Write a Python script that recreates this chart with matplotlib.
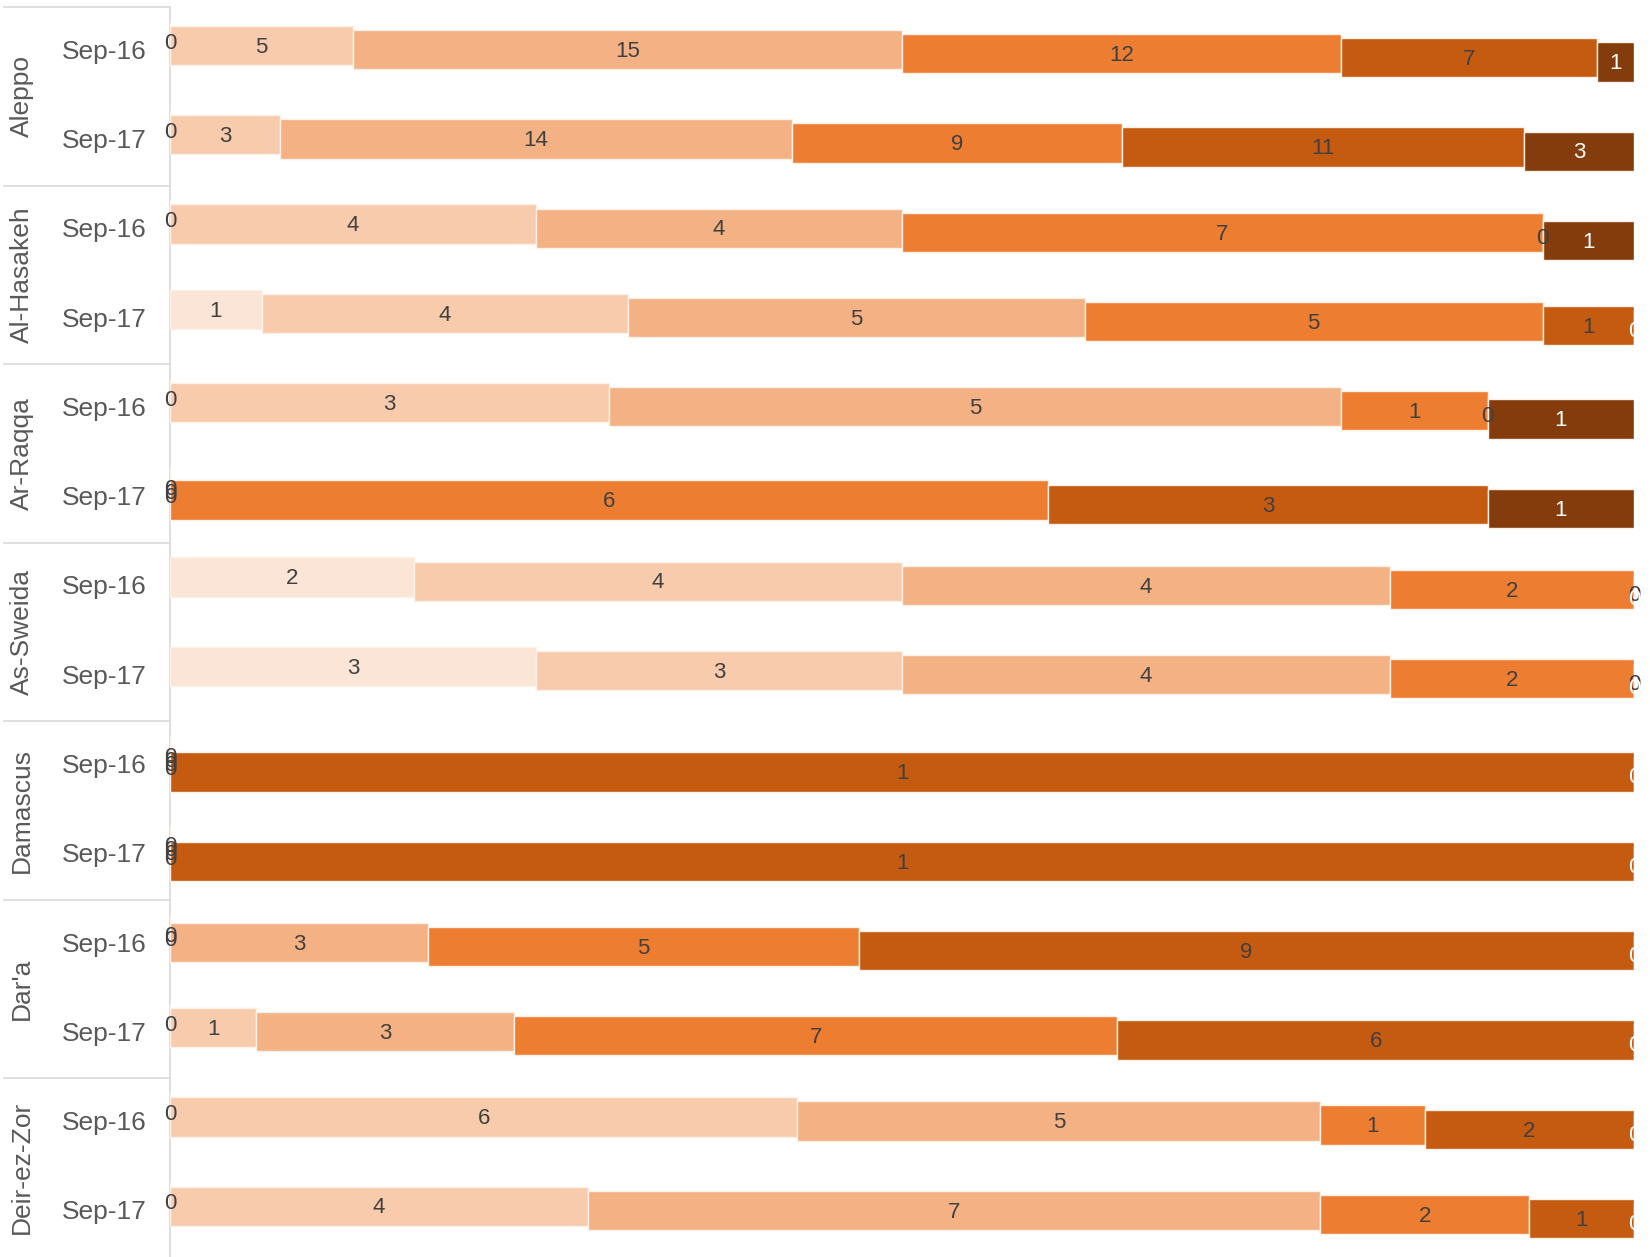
import matplotlib.pyplot as plt
from matplotlib.patches import Rectangle
import numpy as np

plt.rcParams["font.family"] = ["Liberation Sans", "DejaVu Sans"]

# governorates and survey rounds
gobernaciones = ["Aleppo", "Al-Hasakeh", "Ar-Raqqa", "As-Sweida", "Damascus", "Dar'a", "Deir-ez-Zor"]
periodos = ["Sep-16", "Sep-17"]

# counts per category (lightest -> darkest), one row per governorate/round
cat1 = [0, 0, 0, 1, 0, 0, 2, 3, 0, 0, 0, 0, 0, 0]
cat2 = [5, 3, 4, 4, 3, 0, 4, 3, 0, 0, 0, 1, 6, 4]
cat3 = [15, 14, 4, 5, 5, 0, 4, 4, 0, 0, 3, 3, 5, 7]
cat4 = [12, 9, 7, 5, 1, 6, 2, 2, 0, 0, 5, 7, 1, 2]
cat5 = [7, 11, 0, 1, 0, 3, 0, 0, 1, 1, 9, 6, 2, 1]
cat6 = [1, 3, 1, 0, 1, 1, 0, 0, 0, 0, 0, 0, 0, 0]

colores = ["#fbe5d6", "#f8cbad", "#f4b183", "#ed7d31", "#c55a11", "#843c0c"]
color_texto = ["#404040", "#404040", "#404040", "#404040", "#404040", "white"]

datos = np.array([cat1, cat2, cat3, cat4, cat5, cat6], dtype=float)
totales = datos.sum(axis=0)
prop = datos / totales

n_filas = datos.shape[1]
filas = np.arange(n_filas)

fig = plt.figure(figsize=(16.5, 12.57), dpi=100)
ax = fig.add_axes([170 / 1650, 0.0, 1464 / 1650, 1 - 7 / 1257])

# labels may spill left of the bars but get cut at the right edge
clip = Rectangle((-0.1, 0), 1.1, 1, transform=ax.transAxes)

desfase = 0.046
alto = 0.44
izq = np.zeros(n_filas)
for k in range(6):
    y = filas + (k - 2.5) * desfase
    ax.barh(y, prop[k], left=izq, height=alto, color=colores[k],
            edgecolor="#fdf0e6", linewidth=1)
    for i in range(n_filas):
        t = ax.text(izq[i] + prop[k][i] / 2, y[i] + 0.02, str(int(datos[k][i])),
                    ha="center", va="center", fontsize=16, color=color_texto[k],
                    clip_on=False)
        t.set_clip_path(clip)
    izq = izq + prop[k]

ax.set_xlim(0, 1)
ax.set_ylim(n_filas - 0.5, -0.5)
ax.axis("off")

# left header: round labels, governorate names, separators
tr = ax.get_yaxis_transform()
for g, nombre in enumerate(gobernaciones):
    for p, per in enumerate(periodos):
        ax.text(-0.0157, 2 * g + p, per, transform=tr, ha="right", va="center",
                fontsize=19, color="#595959")
    ax.text(-0.101, 2 * g + 0.5, nombre, transform=tr, ha="center", va="center",
            rotation=90, fontsize=19, color="#595959")
    ax.plot([-0.1134, 0], [2 * g - 0.5, 2 * g - 0.5], transform=tr,
            color="#d9d9d9", lw=1.2, clip_on=False)
ax.plot([0, 0], [-0.5, n_filas - 0.5], transform=tr, color="#d9d9d9",
        lw=1.2, clip_on=False, zorder=0)

fig.savefig("out.png", dpi=100)
